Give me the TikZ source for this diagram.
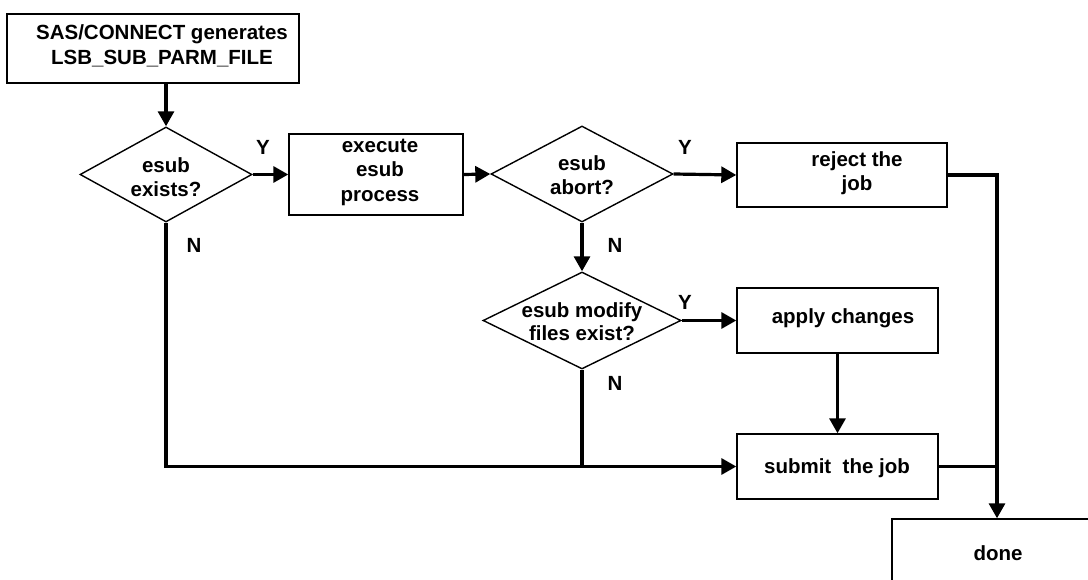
\documentclass[tikz,border=0pt]{standalone}
\usepackage{fontspec}
\setmainfont{Liberation Sans}
\usetikzlibrary{shapes.geometric,arrows.meta}

\begin{document}
\begin{tikzpicture}[x=1pt,y=-1pt,
  every node/.style={font=\bfseries\fontsize{20.5}{24.5}\selectfont},
  procbox/.style={draw,line width=1.4pt,rectangle,inner sep=0pt,align=center},
  decision/.style={draw,line width=1.4pt,diamond,inner sep=0pt},
  txt/.style={align=center,inner sep=0pt},
  flow/.style={line width=3.2pt},
  arr/.style={flow,-{Triangle[length=15pt,width=16pt]}},
  yn/.style={inner sep=0pt}]
\useasboundingbox (0,0) rectangle (1088,580);
\clip (0,0) rectangle (1088,580);

% start box
\node[procbox,minimum width=292,minimum height=69] (start) at (153,48.5) {};
\node[txt] at (162,46) {SAS/CONNECT generates\\LSB\_SUB\_PARM\_FILE};

% decisions
\node[decision,minimum width=172,minimum height=95] (d1) at (166,174.5) {};
\node[txt] at (166,177) {esub\\exists?};
\node[decision,minimum width=182,minimum height=96] (d2) at (582,174) {};
\node[txt] at (582,175) {esub\\abort?};
\node[decision,minimum width=198,minimum height=97] (d3) at (582,320.5) {};
\node[txt,font=\bfseries\fontsize{20.5}{23}\selectfont] at (582,322) {esub modify\\files exist?};

% process boxes
\node[procbox,minimum width=174,minimum height=81] (exec) at (376,174.5) {};
\node[txt] at (380,172) {execute\\esub\\process};
\node[procbox,minimum width=210,minimum height=64] (reject) at (842,175) {};
\node[txt] at (857,173) {reject the\\job};
\node[procbox,minimum width=201,minimum height=65] (apply) at (837.5,320.5) {};
\node[txt] at (843,318) {apply changes};
\node[procbox,minimum width=201,minimum height=65] (submit) at (837.5,466.5) {};
\node[txt] at (837,468) {submit\ \ the job};
\node[procbox,minimum width=212,minimum height=80] (done) at (998,559) {};
\node[txt] at (998,553) {done};

% junction points
\coordinate (j1) at (d1.south |- submit.west);
\coordinate (j3) at (d3.south |- submit.west);
\coordinate (jr) at (997,0);

% connectors
\draw[arr] (d1.north |- start.south) -- (d1.north);
\draw[arr] (d1.east) -- (exec.west);
\draw[arr] (exec.east) -- (d2.west);
\draw[arr] (d2.east) -- (reject.west);
\draw[arr] (d2.south) -- (d3.north);
\draw[arr] (d3.east) -- (apply.west);
\draw[arr] (apply.south) -- (submit.north);
\draw[arr] (d1.south) -- (j1) -- (submit.west);
\draw[flow] (d3.south) -- (j3);
\draw[arr] (reject.east) -- (jr |- reject.east) -- (jr |- done.north);
\draw[flow] (submit.east) -- (jr |- submit.east);

% branch labels
\node[yn] at (263,147) {Y};
\node[yn] at (194,245) {N};
\node[yn] at (685,147) {Y};
\node[yn] at (615,245) {N};
\node[yn] at (685,302) {Y};
\node[yn] at (615,383) {N};
\end{tikzpicture}
\end{document}
